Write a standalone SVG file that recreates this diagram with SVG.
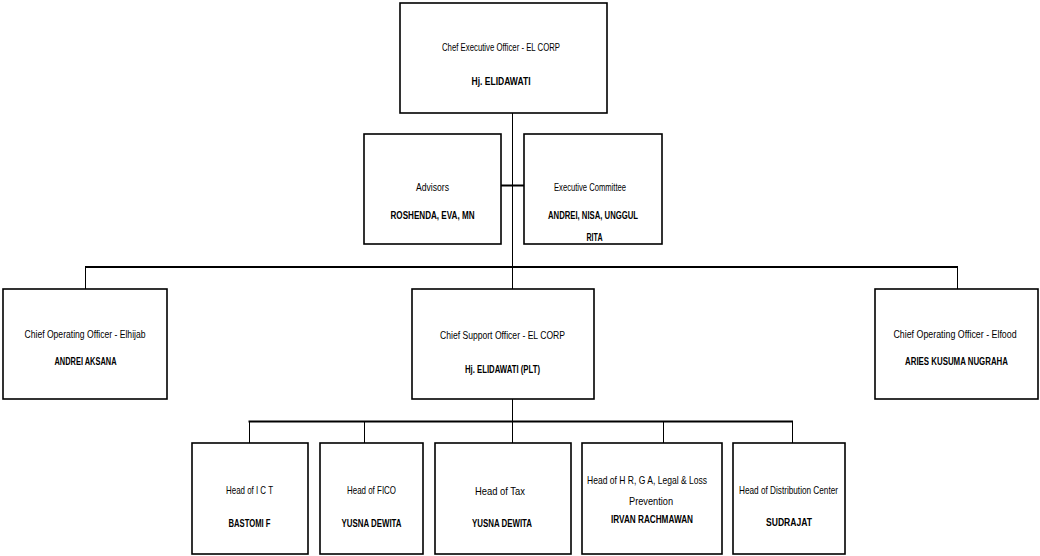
<svg xmlns="http://www.w3.org/2000/svg" width="1040" height="556" viewBox="0 0 1040 556">
<style>
.box{fill:#fff;stroke:#000;stroke-width:1.6}
.t{font-family:"Liberation Sans",Arial,sans-serif;font-size:11px;fill:#000;text-anchor:middle}
.b{font-weight:bold}
.c{fill:none;stroke:#000;stroke-width:1}
.bus{fill:none;stroke:#000;stroke-width:2}
</style>
<rect width="1040" height="556" fill="#fff"/>
<g id="connectors">
<line class="c" x1="512.5" y1="113" x2="512.5" y2="267"/>
<line class="bus" x1="501" y1="185.5" x2="524" y2="185.5"/>
<line class="bus" x1="85" y1="267" x2="958" y2="267"/>
<line class="c" x1="85.5" y1="267" x2="85.5" y2="289"/>
<line class="c" x1="512.5" y1="267" x2="512.5" y2="289"/>
<line class="c" x1="957.5" y1="267" x2="957.5" y2="289"/>
<line class="c" x1="512.5" y1="399" x2="512.5" y2="443"/>
<line class="bus" x1="248.5" y1="421.5" x2="793" y2="421.5"/>
<line class="c" x1="249.5" y1="421.5" x2="249.5" y2="443"/>
<line class="c" x1="364.5" y1="421.5" x2="364.5" y2="443"/>
<line class="c" x1="663.5" y1="421.5" x2="663.5" y2="443"/>
<line class="c" x1="792.5" y1="421.5" x2="792.5" y2="443"/>
</g>
<g id="ceo">
<rect class="box" x="400" y="3" width="207" height="110"/>
<text class="t" x="501" y="50.5" textLength="118" lengthAdjust="spacingAndGlyphs">Chef Executive Officer - EL CORP</text>
<text class="t b" x="501" y="85" textLength="59" lengthAdjust="spacingAndGlyphs">Hj. ELIDAWATI</text>
</g>
<g id="advisors">
<rect class="box" x="364" y="134" width="137" height="110"/>
<text class="t" x="432.5" y="190.5" textLength="33" lengthAdjust="spacingAndGlyphs">Advisors</text>
<text class="t b" x="432.5" y="219" textLength="84" lengthAdjust="spacingAndGlyphs">ROSHENDA, EVA, MN</text>
</g>
<g id="exec-committee">
<rect class="box" x="524" y="134" width="138" height="110"/>
<text class="t" x="590" y="190.5" textLength="72" lengthAdjust="spacingAndGlyphs">Executive Committee</text>
<text class="t b" x="593" y="219" textLength="90" lengthAdjust="spacingAndGlyphs">ANDREI, NISA, UNGGUL</text>
<text class="t b" x="594.5" y="241" textLength="16" lengthAdjust="spacingAndGlyphs">RITA</text>
</g>
<g id="coo-elhijab">
<rect class="box" x="3" y="289" width="164" height="110"/>
<text class="t" x="85" y="337.5" textLength="121" lengthAdjust="spacingAndGlyphs">Chief Operating Officer - Elhijab</text>
<text class="t b" x="85.5" y="364.5" textLength="62" lengthAdjust="spacingAndGlyphs">ANDREI AKSANA</text>
</g>
<g id="cso">
<rect class="box" x="412" y="289" width="182" height="110"/>
<text class="t" x="502.5" y="339" textLength="125" lengthAdjust="spacingAndGlyphs">Chief Support Officer - EL CORP</text>
<text class="t b" x="502.5" y="372.5" textLength="75" lengthAdjust="spacingAndGlyphs">Hj. ELIDAWATI (PLT)</text>
</g>
<g id="coo-elfood">
<rect class="box" x="875" y="289" width="163" height="110"/>
<text class="t" transform="translate(955 337.5) scale(0.77 1)" x="0" y="0" textLength="160" lengthAdjust="spacingAndGlyphs">Chief Operating Officer - Elfood</text>
<text class="t b" transform="translate(956.5 364.5) scale(0.7 1)" x="0" y="0" textLength="147" lengthAdjust="spacingAndGlyphs">ARIES KUSUMA NUGRAHA</text>
</g>
<g id="head-ict">
<rect class="box" x="192" y="443" width="116" height="111"/>
<text class="t" x="249.5" y="493.5" textLength="47" lengthAdjust="spacingAndGlyphs">Head of I C T</text>
<text class="t b" x="249.5" y="526.5" textLength="42" lengthAdjust="spacingAndGlyphs">BASTOMI F</text>
</g>
<g id="head-fico">
<rect class="box" x="320" y="443" width="103" height="111"/>
<text class="t" x="371.5" y="493.5" textLength="49" lengthAdjust="spacingAndGlyphs">Head of FICO</text>
<text class="t b" x="371.5" y="526.5" textLength="60" lengthAdjust="spacingAndGlyphs">YUSNA DEWITA</text>
</g>
<g id="head-tax">
<rect class="box" x="435" y="443" width="136" height="111"/>
<text class="t" x="500" y="494.5" textLength="50" lengthAdjust="spacingAndGlyphs">Head of Tax</text>
<text class="t b" x="502" y="526.5" textLength="60" lengthAdjust="spacingAndGlyphs">YUSNA DEWITA</text>
</g>
<g id="head-hr">
<rect class="box" x="582" y="443" width="140" height="111"/>
<text class="t" x="647" y="484" textLength="120" lengthAdjust="spacingAndGlyphs">Head of H R, G A, Legal &amp; Loss</text>
<text class="t" x="651" y="505" textLength="44" lengthAdjust="spacingAndGlyphs">Prevention</text>
<text class="t b" x="652" y="523" textLength="82" lengthAdjust="spacingAndGlyphs">IRVAN RACHMAWAN</text>
</g>
<g id="head-distribution">
<rect class="box" x="733" y="443" width="112" height="111"/>
<text class="t" x="788.5" y="493.5" textLength="99" lengthAdjust="spacingAndGlyphs">Head of Distribution Center</text>
<text class="t b" x="789" y="525.5" textLength="46" lengthAdjust="spacingAndGlyphs">SUDRAJAT</text>
</g>
</svg>
